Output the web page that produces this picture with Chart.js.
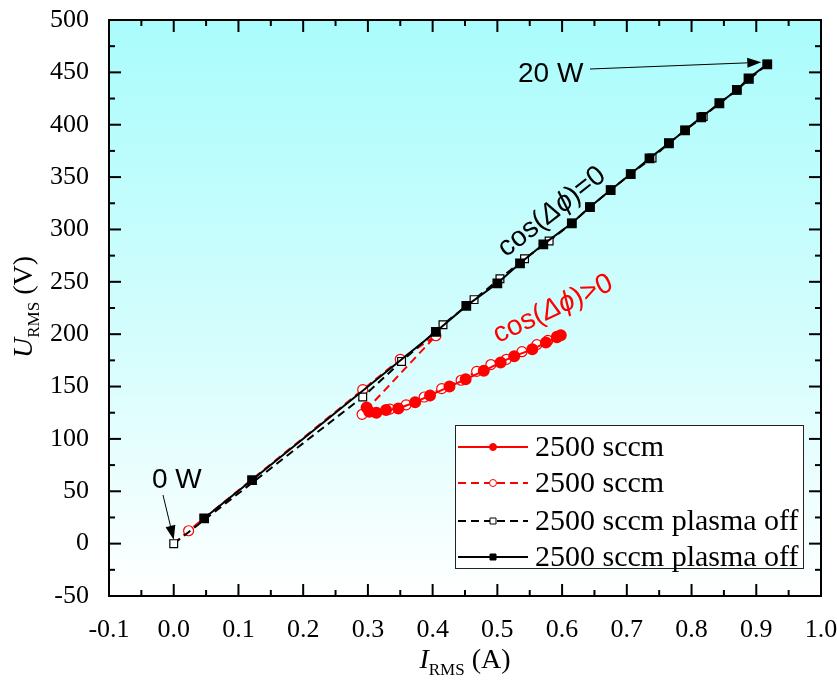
<!DOCTYPE html>
<html>
<head>
<meta charset="utf-8">
<script src="https://cdn.jsdelivr.net/npm/chart.js@4.4.1/dist/chart.umd.min.js"></script>
<style>
  html, body { margin: 0; padding: 0; background: #fff; }
  canvas { display: block; }
</style>
</head>
<body>
<canvas id="chart" width="837" height="688"></canvas>
<script>
// I-V traces, 2500 sccm, plasma on (red) and plasma off (black)
const redOnI = [0.298, 0.302, 0.313, 0.328, 0.347, 0.373, 0.396, 0.426, 0.451, 0.479, 0.505, 0.526, 0.554, 0.575, 0.592, 0.598];
const redOnU = [130, 126, 125, 127.5, 129, 135, 141.5, 150, 157, 165, 173, 179, 185.5, 192, 197, 199];

const redOpenI = [0, 0.023, 0.292, 0.350, 0.405, 0.291, 0.334, 0.359, 0.387, 0.414, 0.444, 0.468, 0.490, 0.514, 0.538, 0.561, 0.578, 0.592];
const redOpenU = [0, 12.3, 147, 176, 198.5, 123.5, 128.5, 132.5, 140, 148, 156, 164.5, 171, 176, 183.3, 190, 194, 198];

const offOpenI = [0, 0.292, 0.352, 0.416, 0.464, 0.504, 0.542, 0.580, 0.615, 0.643, 0.675, 0.706, 0.739, 0.765, 0.790, 0.818, 0.843, 0.870, 0.889, 0.917];
const offOpenU = [0, 140, 174, 209, 233, 253, 272, 289, 306, 321.4, 337.6, 352.9, 368.2, 382.3, 394.7, 407.8, 420.5, 433.2, 443.5, 457.7];

const offSolidI = [0.047, 0.121, 0.405, 0.452, 0.500, 0.535, 0.571, 0.615, 0.643, 0.675, 0.706, 0.735, 0.765, 0.790, 0.815, 0.843, 0.870, 0.888, 0.917];
const offSolidU = [24.2, 60.7, 202.3, 227, 248.6, 267.7, 285.8, 305.9, 321.4, 337.6, 352.9, 367.9, 382.3, 394.7, 407.1, 420.5, 433.2, 444.3, 457.7];

const xTickVals = [-0.1, 0, 0.1, 0.2, 0.3, 0.4, 0.5, 0.6, 0.7, 0.8, 0.9, 1.0];
const yTickVals = [-50, 0, 50, 100, 150, 200, 250, 300, 350, 400, 450, 500];

const RED = '#ff0000';
const BLACK = '#000000';
const SERIF = '"Liberation Serif", "Times New Roman", serif';
const SANS = '"Liberation Sans", Arial, sans-serif';

const pts = (xs, ys) => xs.map((x, i) => ({ x: x, y: ys[i] }));

// plot area background: cyan fading to white
const plotBg = {
  id: 'plotBg',
  beforeDraw(chart) {
    const { ctx, chartArea: a } = chart;
    const g = ctx.createLinearGradient(0, a.top, 0, a.bottom);
    g.addColorStop(0, '#aafcfc');
    g.addColorStop(0.55, '#d4fdfd');
    g.addColorStop(1, '#ffffff');
    ctx.save();
    ctx.fillStyle = g;
    ctx.fillRect(a.left, a.top, a.right - a.left, a.bottom - a.top);
    ctx.restore();
  }
};

// box frame with inward ticks on all four sides
const frameTicks = {
  id: 'frameTicks',
  afterDatasetsDraw(chart) {
    const { ctx, chartArea: a, scales: { x, y } } = chart;
    ctx.save();
    ctx.strokeStyle = BLACK;
    ctx.lineWidth = 2;
    const tick = (x1, y1, x2, y2) => { ctx.beginPath(); ctx.moveTo(x1, y1); ctx.lineTo(x2, y2); ctx.stroke(); };
    xTickVals.forEach((v, i) => {
      const px = x.getPixelForValue(v);
      tick(px, a.bottom, px, a.bottom - 12);
      tick(px, a.top, px, a.top + 12);
      if (i < xTickVals.length - 1) {
        const pm = x.getPixelForValue(v + 0.05);
        tick(pm, a.bottom, pm, a.bottom - 6);
        tick(pm, a.top, pm, a.top + 6);
      }
    });
    yTickVals.forEach((v, i) => {
      const py = y.getPixelForValue(v);
      tick(a.left, py, a.left + 12, py);
      tick(a.right, py, a.right - 12, py);
      if (i < yTickVals.length - 1) {
        const pm = y.getPixelForValue(v + 25);
        tick(a.left, pm, a.left + 6, pm);
        tick(a.right, pm, a.right - 6, pm);
      }
    });
    ctx.strokeRect(a.left, a.top, a.right - a.left, a.bottom - a.top);
    ctx.restore();
  }
};

function arrow(ctx, x1, y1, x2, y2) {
  const ang = Math.atan2(y2 - y1, x2 - x1);
  const len = 14, w = 5;
  ctx.beginPath();
  ctx.moveTo(x1, y1);
  ctx.lineTo(x2 - len * Math.cos(ang), y2 - len * Math.sin(ang));
  ctx.stroke();
  ctx.beginPath();
  ctx.moveTo(x2, y2);
  ctx.lineTo(x2 - len * Math.cos(ang) + w * Math.sin(ang), y2 - len * Math.sin(ang) - w * Math.cos(ang));
  ctx.lineTo(x2 - len * Math.cos(ang) - w * Math.sin(ang), y2 - len * Math.sin(ang) + w * Math.cos(ang));
  ctx.closePath();
  ctx.fill();
}

// text made of [string, font, dy] runs, drawn from the left on one baseline
function runs(ctx, parts, x, y) {
  let cx = x;
  parts.forEach(([s, f, dy]) => {
    ctx.font = f;
    ctx.fillText(s, cx, y + (dy || 0));
    cx += ctx.measureText(s).width;
  });
  return cx - x;
}
function runsWidth(ctx, parts) {
  let w = 0;
  parts.forEach(([s, f]) => { ctx.font = f; w += ctx.measureText(s).width; });
  return w;
}

function cosLabel(ctx, tail, color, cx, cy, deg) {
  const parts = [['cos(', '28px ' + SANS], ['\u0394\u03d5', 'italic 28px ' + SANS], [tail, '28px ' + SANS]];
  ctx.save();
  ctx.translate(cx, cy);
  ctx.rotate(deg * Math.PI / 180);
  ctx.fillStyle = color;
  ctx.textBaseline = 'middle';
  runs(ctx, parts, -runsWidth(ctx, parts) / 2, 0);
  ctx.restore();
}

const annotations = {
  id: 'annotations',
  afterDraw(chart) {
    const { ctx, scales: { x, y } } = chart;
    ctx.save();
    ctx.fillStyle = BLACK;
    ctx.strokeStyle = BLACK;
    ctx.lineWidth = 1;
    ctx.textBaseline = 'alphabetic';
    ctx.font = '28px ' + SANS;

    // 0 W
    ctx.fillText('0 W', 152, 488);
    arrow(ctx, 163, 495, x.getPixelForValue(0), y.getPixelForValue(0) - 4);

    // 20 W
    const lastI = offSolidI[offSolidI.length - 1], lastU = offSolidU[offSolidU.length - 1];
    ctx.fillText('20 W', 518, 82);
    arrow(ctx, 590, 69, x.getPixelForValue(lastI) - 6, y.getPixelForValue(lastU) - 2);

    cosLabel(ctx, ')=0', BLACK, 552, 212, -38);
    cosLabel(ctx, ')>0', RED, 553, 309, -25);

    // axis titles
    ctx.fillStyle = BLACK;
    ctx.textBaseline = 'alphabetic';
    const xt = [['I', 'italic 28px ' + SERIF], ['RMS', '17px ' + SERIF, 7], [' (A)', '28px ' + SERIF]];
    runs(ctx, xt, 465 - runsWidth(ctx, xt) / 2, 668);

    const yt = [['U', 'italic 28px ' + SERIF], ['RMS', '17px ' + SERIF, 7], [' (V)', '28px ' + SERIF]];
    ctx.save();
    ctx.translate(32, 307);
    ctx.rotate(-Math.PI / 2);
    runs(ctx, yt, -runsWidth(ctx, yt) / 2, 0);
    ctx.restore();
    ctx.restore();
  }
};

// legend box with line + marker samples
const legendBox = {
  id: 'legendBox',
  afterDraw(chart) {
    const { ctx } = chart;
    const bx = 455, by = 425, bw = 348, bh = 143;
    ctx.save();
    ctx.fillStyle = '#ffffff';
    ctx.fillRect(bx, by, bw, bh);
    ctx.strokeStyle = '#222';
    ctx.lineWidth = 1;
    ctx.strokeRect(bx + 0.5, by + 0.5, bw, bh);
    const rows = [447, 483, 521, 557];
    chart.data.datasets.forEach((ds, i) => {
      const ry = rows[i];
      ctx.strokeStyle = ds.borderColor;
      ctx.lineWidth = 2;
      ctx.setLineDash(ds.borderDash || []);
      ctx.beginPath();
      ctx.moveTo(458, ry);
      ctx.lineTo(528, ry);
      ctx.stroke();
      ctx.setLineDash([]);
      ctx.fillStyle = ds.legendFill;
      ctx.lineWidth = 1;
      ctx.beginPath();
      if (ds.pointStyle === 'circle') ctx.arc(493, ry, 3.5, 0, Math.PI * 2);
      else ctx.rect(490, ry - 3, 6, 6);
      ctx.fill();
      ctx.stroke();
      ctx.fillStyle = BLACK;
      ctx.font = '30px ' + SERIF;
      ctx.textBaseline = 'middle';
      ctx.fillText(ds.label, 535, ry + 1);
    });
    ctx.restore();
  }
};

function draw() {
  new Chart(document.getElementById('chart'), {
    type: 'line',
    data: {
      datasets: [
        {
          label: '2500 sccm', data: pts(redOnI, redOnU),
          borderColor: RED, borderWidth: 2,
          pointStyle: 'circle', pointRadius: 5, pointBackgroundColor: RED, pointBorderColor: RED,
          legendFill: RED, order: 1
        },
        {
          label: '2500 sccm', data: pts(redOpenI, redOpenU),
          borderColor: RED, borderWidth: 2, borderDash: [8, 5],
          pointStyle: 'circle', pointRadius: c => (c.dataIndex === 0 ? 0 : 5),
          pointBackgroundColor: '#ffffff', pointBorderColor: RED, pointBorderWidth: 1.2,
          legendFill: '#ffffff', order: 3
        },
        {
          label: '2500 sccm plasma off', data: pts(offOpenI, offOpenU),
          borderColor: BLACK, borderWidth: 2, borderDash: [8, 5],
          pointStyle: 'rect', pointRadius: 5.5,
          pointBackgroundColor: '#ffffff', pointBorderColor: BLACK, pointBorderWidth: 1.2,
          legendFill: '#ffffff', order: 2
        },
        {
          label: '2500 sccm plasma off', data: pts(offSolidI, offSolidU),
          borderColor: BLACK, borderWidth: 2,
          pointStyle: 'rect', pointRadius: 5.5, pointBackgroundColor: BLACK, pointBorderColor: BLACK,
          legendFill: BLACK, order: 0
        }
      ]
    },
    options: {
      responsive: false,
      animation: false,
      events: [],
      layout: { padding: { top: 20, right: 16, left: 0, bottom: 0 } },
      elements: { line: { tension: 0 } },
      plugins: { legend: { display: false }, tooltip: { enabled: false } },
      scales: {
        x: {
          type: 'linear', min: -0.1, max: 1.0,
          grid: { display: false }, border: { display: false },
          afterBuildTicks: s => { s.ticks = xTickVals.map(v => ({ value: v })); },
          afterFit: s => { s.height = 92; s.paddingLeft = 0; s.paddingRight = 0; },
          ticks: {
            color: BLACK, padding: 11, maxRotation: 0,
            font: { family: SERIF, size: 26 },
            callback: v => v.toFixed(1)
          }
        },
        y: {
          type: 'linear', min: -50, max: 500,
          grid: { display: false }, border: { display: false },
          afterBuildTicks: s => { s.ticks = yTickVals.map(v => ({ value: v })); },
          afterFit: s => { s.width = 109; s.paddingTop = 0; s.paddingBottom = 0; },
          ticks: {
            color: BLACK, padding: 12,
            font: { family: SERIF, size: 26 },
            callback: v => String(v)
          }
        }
      }
    },
    plugins: [plotBg, frameTicks, annotations, legendBox]
  });
}

Promise.all([
  document.fonts.load('26px "Liberation Serif"'),
  document.fonts.load('italic 28px "Liberation Serif"'),
  document.fonts.load('28px "Liberation Sans"'),
  document.fonts.load('italic 28px "Liberation Sans"')
]).then(draw, draw);
</script>
</body>
</html>
